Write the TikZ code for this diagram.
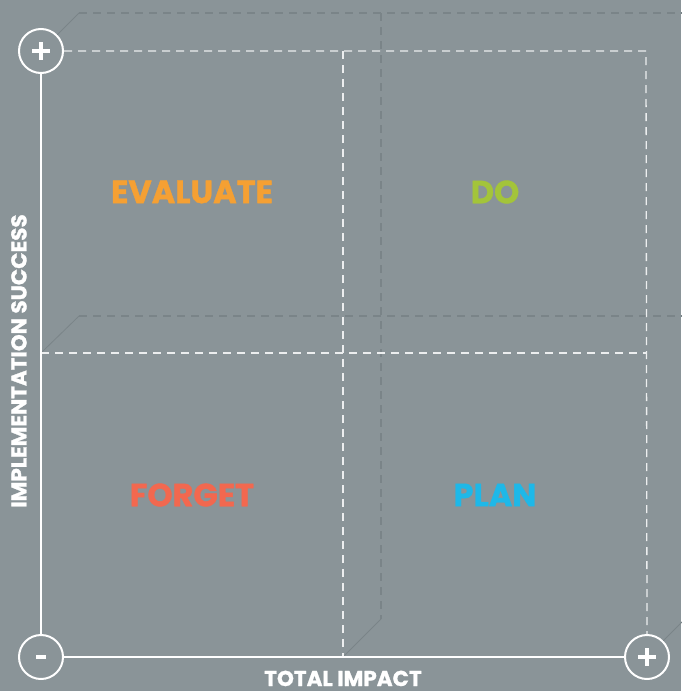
\documentclass[tikz,border=0pt]{standalone}
\usepackage{fontspec}
\setmainfont{Poppins}[BoldFeatures={FakeBold=1.2}]
\definecolor{bg}{RGB}{138,148,152}
\definecolor{backline}{RGB}{122,132,136}
\definecolor{frontdash}{RGB}{236,238,239}
\definecolor{cEval}{RGB}{245,160,51}
\definecolor{cDo}{RGB}{163,196,58}
\definecolor{cForget}{RGB}{242,104,79}
\definecolor{cPlan}{RGB}{30,184,232}
\begin{document}
\begin{tikzpicture}[x=1pt,y=-1pt,
  axis/.style={white,line width=2pt},
  endcirc/.style={circle,draw=white,line width=2pt,minimum size=44pt,inner sep=0pt},
  fdash/.style={frontdash,line width=1.3pt,dash pattern=on 8pt off 6pt},
  bdash/.style={backline,line width=1.2pt,dash pattern=on 8pt off 6pt},
  bline/.style={backline,line width=0.8pt},
  signbar/.style={white,line width=3.6pt},
  quad/.style={font=\bfseries\fontsize{32}{32}\selectfont},
  axlabel/.style={white,text depth=0pt,font=\bfseries\fontsize{21.5}{21.5}\selectfont}]
\fill[bg] (0,0) rectangle (681,691);
\useasboundingbox (0,0) rectangle (681,691);
% back frame
\coordinate (bTL) at (79,13);
\coordinate (bTR) at (690,13);
\coordinate (bML) at (79,316);
\coordinate (bMR) at (690,316);
\coordinate (bVT) at (381,13);
\coordinate (bVB) at (381,619);
\coordinate (bRB) at (685,619);
\draw[bdash] (bTL) -- (bTR);
\draw[bdash] (bML) -- (bMR);
\draw[bdash] (bVT) -- (bVB);
% front points
\coordinate (fML) at (41,353);
\coordinate (fMR) at (646,353);
\coordinate (fVT) at (343,51);
\coordinate (fVB) at (343,657);
\node[endcirc] (tl) at (41,51) {};
\node[endcirc] (bl) at (41,657) {};
\node[endcirc] (br) at (647,657) {};
\coordinate (fTR) at (646,51);
% signs
\draw[signbar] ([xshift=-9pt]tl.center) -- ([xshift=9pt]tl.center);
\draw[signbar] ([yshift=-9pt]tl.center) -- ([yshift=9pt]tl.center);
\draw[signbar] ([xshift=-9pt]br.center) -- ([xshift=9pt]br.center);
\draw[signbar] ([yshift=-9pt]br.center) -- ([yshift=9pt]br.center);
\draw[white,line width=4pt] ([xshift=-5pt]bl.center) -- ([xshift=5pt]bl.center);
% diagonals
\draw[bline] (tl.45) -- (bTL);
\draw[bline] (fML) -- (bML);
\draw[bline] (fVB) -- (bVB);
\draw[bline] (br.45) -- (bRB);
% front dashed
\draw[fdash] (tl.east) -- (fTR) -- (br.north);
\draw[fdash] (fML) -- (fMR);
\draw[fdash] (fVT) -- (fVB);
% axes
\draw[axis] (tl.south) -- (bl.north);
\draw[axis] (bl.east) -- (br.west);
% labels
\node[quad,text=cEval] (ev) at (192,192) {EVALUATE};
\node[quad,text=cDo] (do) at (495,192) {DO};
\node[quad,text=cForget] (fo) at (192,495) {FORGET};
\node[quad,text=cPlan] (pl) at (495,495) {PLAN};
\node[axlabel,anchor=base,inner sep=0pt] (ti) at (343,686) {TOTAL IMPACT};
\node[axlabel,rotate=90,anchor=base,inner sep=0pt] (is) at (26.5,361) {IMPLEMENTATION SUCCESS};
\end{tikzpicture}
\end{document}
